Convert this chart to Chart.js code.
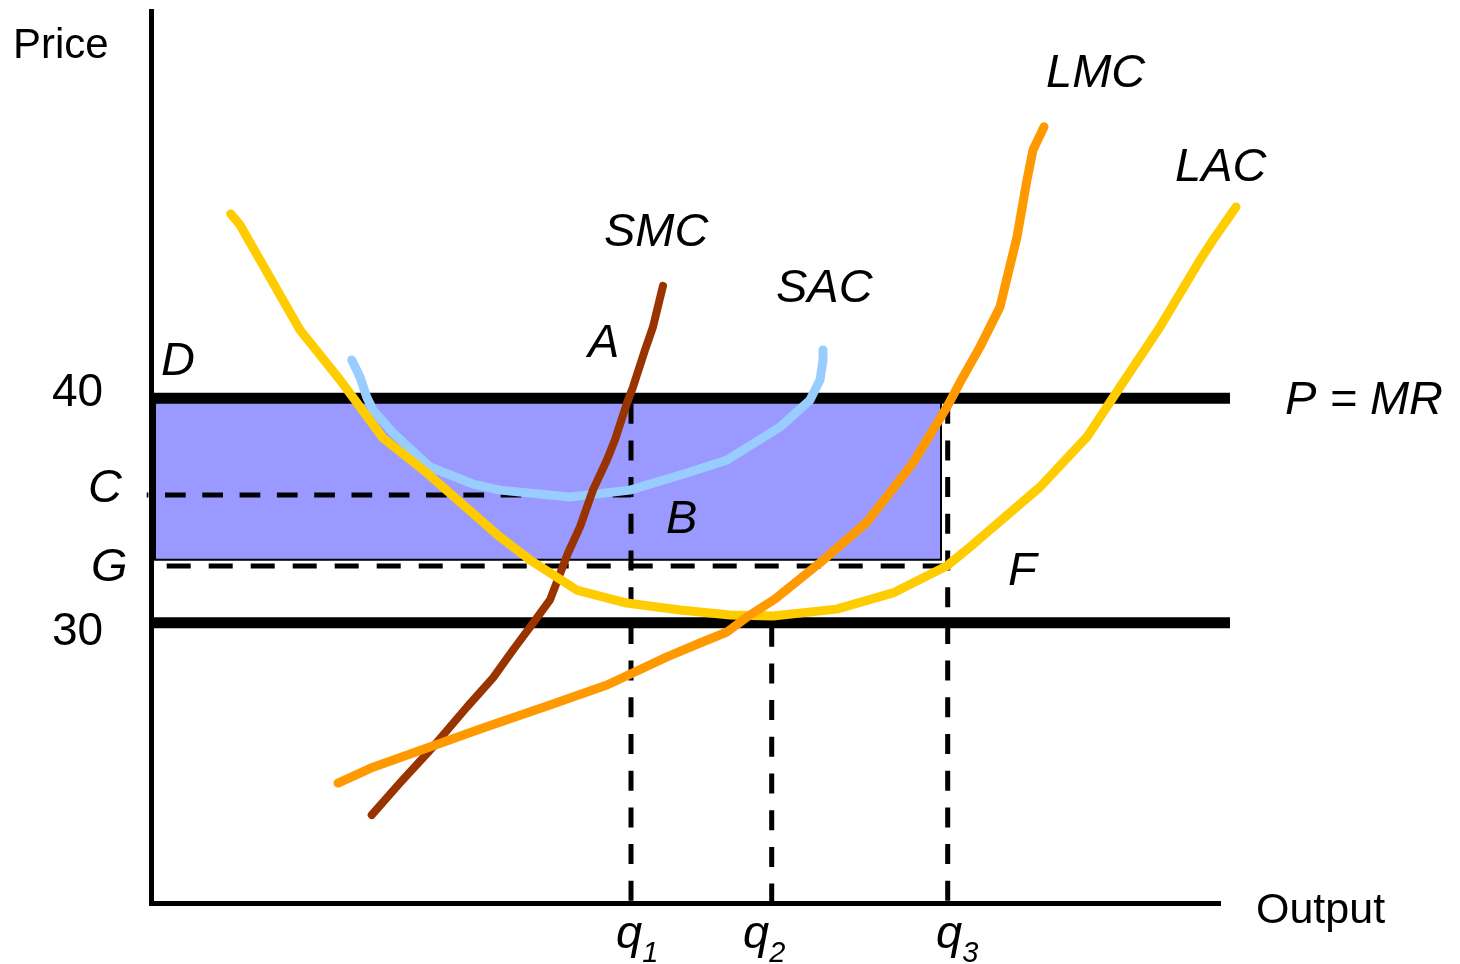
<!DOCTYPE html>
<html>
<head>
<meta charset="utf-8">
<script src="https://cdn.jsdelivr.net/npm/chart.js@4/dist/chart.umd.min.js"></script>
<style>
  html, body { margin: 0; padding: 0; background: #ffffff; }
  canvas { display: block; }
</style>
</head>
<body>
<canvas id="chart" width="1460" height="964"></canvas>
<script>
// ---- Cost curves (output on x, price on y) ----
const lacOutput = [7.97, 8.9, 14.9, 18.9, 23.2, 27.6, 34.9, 37.9, 42.57, 47.57, 52.9, 57.9, 62.2, 68.57, 74.2, 79.57, 81.9, 88.9, 93.6, 96.9, 100.9, 104.9, 106.2, 108.5];
const lacPrice  = [48.21, 47.72, 43.04, 40.82, 38.23, 36.67, 33.82, 32.80, 31.46, 30.88, 30.57, 30.35, 30.30, 30.61, 31.33, 32.53, 33.38, 36.05, 38.28, 40.50, 43.18, 46.16, 47.05, 48.52];

const sacOutput = [20.07, 20.9, 21.57, 22.2, 24.2, 27.9, 32.2, 34.9, 41.9, 47.9, 53.6, 57.6, 62.9, 65.9, 66.9, 67.2, 67.2];
const sacPrice  = [41.71, 40.95, 40.06, 39.48, 38.46, 36.94, 36.18, 35.91, 35.60, 35.91, 36.67, 37.25, 38.72, 39.92, 40.82, 41.71, 42.15];

const smcOutput = [22.07, 24.9, 28.2, 31.6, 34.2, 36.2, 38.2, 39.9, 41.7, 42.9, 44.2, 45.6, 46.4, 47.6, 48.2, 49.4, 50.2, 51.2];
const smcPrice  = [21.44, 22.87, 24.47, 26.25, 27.55, 28.79, 29.99, 31.02, 33.11, 34.27, 35.92, 37.26, 38.15, 39.79, 40.50, 42.15, 43.18, 45.01];

const lmcOutput = [18.7, 22.2, 27.6, 33.2, 39.9, 45.6, 51.6, 54.9, 57.6, 59.9, 62.4, 66.9, 71.6, 76.2, 79.6, 81.2, 82.9, 84.9, 86.6, 87.6, 88.2, 89.3];
const lmcPrice  = [22.86, 23.57, 24.42, 25.31, 26.34, 27.23, 28.48, 29.10, 29.59, 30.35, 31.06, 32.67, 34.49, 37.12, 39.62, 40.95, 42.29, 44.07, 47.19, 49.73, 51.06, 52.09];

// ---- Price levels and output quantities ----
const priceLevels = [40, 30];          // P = MR and the minimum of LAC
const priceLabels = ['40', '30'];
const levelC = 35.69;                  // SAC at q1
const levelG = 32.53;                  // LAC at q3
const boxBottom = 32.81;               // lower edge of the shaded area
const quantities = [48.0, 62.07, 79.67];
const quantitySubs = ['1', '2', '3'];
const boxRight = 79.0;

// ---- Axis extents ----
const outputMin = 0, outputMax = 106.9;
const priceMin = 17.52, priceMax = 57.25;

const pts = (xs, ys) => xs.map((v, i) => ({ x: v, y: ys[i] }));

const curve = (label, xs, ys, color, width, order) => ({
  label, data: pts(xs, ys), borderColor: color, borderWidth: width,
  borderCapStyle: 'round', borderJoinStyle: 'round', tension: 0,
  pointRadius: 0, fill: false, clip: false, order
});

const segment = (label, points, width, dash, offset, order) => ({
  label, data: points, borderColor: '#000000', borderWidth: width,
  borderDash: dash, borderDashOffset: offset, borderCapStyle: 'butt',
  pointRadius: 0, fill: false, clip: false, tension: 0, order
});

const datasets = [
  // shaded area between the price line and G
  { label: 'area', data: [{ x: 0.4, y: priceLevels[0] }, { x: boxRight, y: priceLevels[0] }],
    borderWidth: 0, borderColor: 'rgba(0,0,0,0)', backgroundColor: '#9999ff',
    fill: { value: boxBottom }, pointRadius: 0, clip: false, order: 20 },
  segment('area edge', [{ x: 0.4, y: priceLevels[0] }, { x: 0.4, y: boxBottom },
    { x: boxRight, y: boxBottom }, { x: boxRight, y: priceLevels[0] }], 2, [], 0, 19),

  // dashed guide lines
  segment('C', [{ x: -0.43, y: levelC }, { x: quantities[0], y: levelC }], 5, [20.7, 16.6], 19, 15),
  segment('G', [{ x: 1.57, y: levelG }, { x: quantities[2] - 0.05, y: levelG }], 5, [24, 18], 0, 15),
  segment('q1', [{ x: quantities[0], y: priceLevels[0] }, { x: quantities[0], y: priceMin }], 5, [20, 16.7], 31.3, 15),
  segment('q2', [{ x: quantities[1], y: priceLevels[1] }, { x: quantities[1], y: priceMin }], 5, [20, 16.7], 32.8, 15),
  segment('q3', [{ x: quantities[2], y: priceLevels[0] }, { x: quantities[2], y: priceMin }], 5, [20, 16.7], 31.3, 15),

  // price lines
  segment('P = MR', [{ x: 0, y: priceLevels[0] }, { x: 107.9, y: priceLevels[0] }], 11, [], 0, 10),
  segment('30', [{ x: 0, y: priceLevels[1] }, { x: 107.9, y: priceLevels[1] }], 11, [], 0, 10),

  // cost curves
  curve('SAC', sacOutput, sacPrice, '#99ccff', 9, 5),
  curve('SMC', smcOutput, smcPrice, '#993300', 8, 4),
  curve('LAC', lacOutput, lacPrice, '#ffcc00', 9, 3),
  curve('LMC', lmcOutput, lmcPrice, '#ff9900', 9, 2)
];

// ---- Text placed in chart coordinates ----
const FONT = '"Liberation Sans", Arial, Helvetica, sans-serif';
const italic = 'italic 47px ' + FONT;
const textItems = [
  { text: 'Price',  x: -13.8, y: 55.16, font: '42px ' + FONT },
  { text: 'Output', x: 110.5, y: 16.63, font: '43px ' + FONT },
  { text: priceLabels[0], x: -9.9, y: 39.66, font: '46px ' + FONT },
  { text: priceLabels[1], x: -9.9, y: 29.01, font: '46px ' + FONT },
  { text: 'C', x: -6.3, y: 35.38, font: italic },
  { text: 'G', x: -6.0, y: 31.86, font: italic },
  { text: 'D', x: 1.0, y: 41.04, font: italic },
  { text: 'A', x: 43.7, y: 41.84, font: italic },
  { text: 'B', x: 51.5, y: 34.00, font: italic },
  { text: 'F', x: 85.7, y: 31.68, font: italic },
  { text: 'SMC', x: 45.3, y: 46.78, font: italic },
  { text: 'SAC', x: 62.5, y: 44.29, font: italic },
  { text: 'LMC', x: 89.5, y: 53.87, font: italic },
  { text: 'LAC', x: 102.4, y: 49.66, font: italic },
  { text: 'P = MR', x: 113.4, y: 39.30, font: italic },
  { text: 'q', sub: quantitySubs[0], x: 46.5, y: 15.51, font: italic },
  { text: 'q', sub: quantitySubs[1], x: 59.2, y: 15.51, font: italic },
  { text: 'q', sub: quantitySubs[2], x: 78.5, y: 15.51, font: italic }
];

const textPlugin = {
  id: 'diagramText',
  afterDraw(chart) {
    const { ctx } = chart;
    const xs = chart.scales.x, ys = chart.scales.y;
    ctx.save();
    ctx.fillStyle = '#000000';
    ctx.textAlign = 'left';
    ctx.textBaseline = 'alphabetic';
    for (const t of textItems) {
      const px = xs.getPixelForValue(t.x);
      const py = ys.getPixelForValue(t.y);
      ctx.font = t.font;
      ctx.fillText(t.text, px, py);
      if (t.sub) {
        const w = ctx.measureText(t.text).width;
        ctx.font = 'italic 29px ' + FONT;
        ctx.fillText(t.sub, px + w, py + 14);
      }
    }
    ctx.restore();
  }
};

new Chart(document.getElementById('chart'), {
  type: 'line',
  data: { datasets },
  plugins: [textPlugin],
  options: {
    responsive: false,
    animation: false,
    devicePixelRatio: 1,
    layout: { padding: { left: 151, top: 11, right: 240, bottom: 61 } },
    plugins: { legend: { display: false }, tooltip: { enabled: false } },
    events: [],
    scales: {
      x: {
        type: 'linear', min: outputMin, max: outputMax,
        grid: { display: false, drawTicks: false },
        ticks: { display: false },
        border: { display: true, color: '#000000', width: 5 }
      },
      y: {
        type: 'linear', min: priceMin, max: priceMax,
        grid: { display: false, drawTicks: false },
        ticks: { display: false },
        border: { display: true, color: '#000000', width: 5 }
      }
    }
  }
});
</script>
</body>
</html>
